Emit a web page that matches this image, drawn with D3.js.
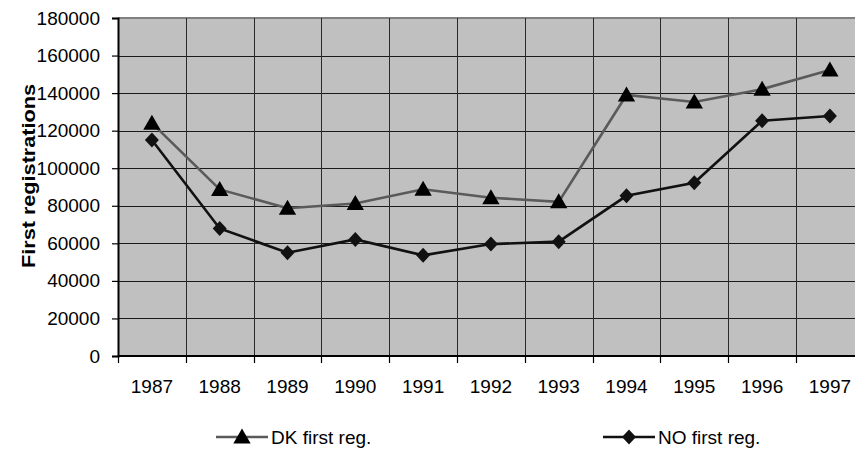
<!DOCTYPE html>
<html>
<head>
<meta charset="utf-8">
<script src="https://cdn.jsdelivr.net/npm/d3@7"></script>
<style>
  html, body { margin: 0; padding: 0; background: #fff; }
  svg { display: block; }
  text { font-family: "Liberation Sans", Arial, sans-serif; fill: #000; }
</style>
</head>
<body>
<svg id="chart" width="855" height="450"></svg>
<script>
// First registrations per year, Denmark and Norway
const years = ["1987","1988","1989","1990","1991","1992","1993","1994","1995","1996","1997"];
const dkFirstReg = [124000, 88700, 78700, 81200, 88800, 84300, 82100, 139000, 135300, 142100, 152300];
const noFirstReg = [115000, 67900, 55000, 62100, 53600, 59600, 60900, 85300, 92300, 125300, 127800];
const yTicks = [0, 20000, 40000, 60000, 80000, 100000, 120000, 140000, 160000, 180000];
const seriesNames = ["DK first reg.", "NO first reg."];

const svg = d3.select("#chart");
const plot = { left: 118, top: 18, bottom: 356, band: 67.8 };
plot.right = plot.left + plot.band * years.length;

const x = d3.scaleBand().domain(years).range([plot.left, plot.right]).padding(0);
const y = d3.scaleLinear().domain([0, 180000]).range([plot.bottom, plot.top]);

// plot background
svg.append("rect")
  .attr("x", plot.left).attr("y", plot.top)
  .attr("width", plot.right - plot.left).attr("height", plot.bottom - plot.top)
  .attr("fill", "#c0c0c0");

// horizontal gridlines
svg.append("g").selectAll("line")
  .data(yTicks.filter(v => v > 0 && v < 180000))
  .join("line")
  .attr("x1", plot.left).attr("x2", plot.right)
  .attr("y1", d => Math.round(y(d)) + 0.5).attr("y2", d => Math.round(y(d)) + 0.5)
  .attr("stroke", "#1a1a1a").attr("stroke-width", 1);

// top border
svg.append("line")
  .attr("x1", plot.left).attr("x2", plot.right)
  .attr("y1", y(180000)).attr("y2", y(180000))
  .attr("stroke", "#808080").attr("stroke-width", 2);

// vertical gridlines at category boundaries
svg.append("g").selectAll("line")
  .data(years.slice(1))
  .join("line")
  .attr("x1", d => Math.round(x(d)) + 0.5).attr("x2", d => Math.round(x(d)) + 0.5)
  .attr("y1", plot.top).attr("y2", plot.bottom)
  .attr("stroke", "#2a2a2a").attr("stroke-width", 1);

// y axis
const yAxis = svg.append("g")
  .attr("transform", `translate(${plot.left},0)`)
  .call(d3.axisLeft(y).tickValues(yTicks).tickSize(6).tickPadding(12).tickFormat(d3.format("d")));
yAxis.select(".domain").attr("stroke", "#000").attr("stroke-width", 2);
yAxis.selectAll(".tick line").attr("stroke", "#000").attr("stroke-width", 1.2);
yAxis.selectAll(".tick text")
  .style("font-family", '"Liberation Sans", Arial, sans-serif')
  .style("font-size", "19px").attr("fill", "#000");

// x axis: labels centred in each band, ticks on band boundaries
const xAxis = svg.append("g").attr("transform", `translate(0,${plot.bottom})`);
xAxis.append("line")
  .attr("x1", plot.left).attr("x2", plot.right)
  .attr("y1", 0).attr("y2", 0)
  .attr("stroke", "#000").attr("stroke-width", 2);
xAxis.selectAll("line.tk")
  .data(years)
  .join("line").attr("class", "tk")
  .attr("x1", d => Math.round(x(d)) + 0.5).attr("x2", d => Math.round(x(d)) + 0.5)
  .attr("y1", 0).attr("y2", 7)
  .attr("stroke", "#000").attr("stroke-width", 1.2);
xAxis.selectAll("text")
  .data(years)
  .join("text")
  .attr("x", d => x(d) + x.bandwidth() / 2)
  .attr("y", 37)
  .attr("text-anchor", "middle")
  .style("font-size", "19px")
  .text(d => d);

// y axis title
svg.append("text")
  .attr("transform", "translate(35,176) rotate(-90) scale(1.14,1)")
  .attr("text-anchor", "middle")
  .style("font-size", "19px").style("font-weight", "bold")
  .text("First registrations");

const cx = i => x(years[i]) + x.bandwidth() / 2;
const line = d3.line().x((d, i) => cx(i)).y(d => y(d));

const triangle = d3.symbol().type(d3.symbolTriangle).size(130);
const diamond = "M0,-7.5L7,0L0,7.5L-7,0Z";

// DK series
svg.append("path").datum(dkFirstReg)
  .attr("d", line).attr("fill", "none")
  .attr("stroke", "#5a5a5a").attr("stroke-width", 2.6);
svg.append("g").selectAll("path")
  .data(dkFirstReg).join("path")
  .attr("transform", (d, i) => `translate(${cx(i)},${y(d) + 1.5})`)
  .attr("d", triangle).attr("fill", "#000");

// NO series
svg.append("path").datum(noFirstReg)
  .attr("d", line).attr("fill", "none")
  .attr("stroke", "#111").attr("stroke-width", 2.6);
svg.append("g").selectAll("path")
  .data(noFirstReg).join("path")
  .attr("transform", (d, i) => `translate(${cx(i)},${y(d)})`)
  .attr("d", diamond).attr("fill", "#111");

// legend
const legend = [
  { name: seriesNames[0], x: 216, color: "#5a5a5a", marker: "tri" },
  { name: seriesNames[1], x: 603, color: "#111", marker: "dia" }
];
const ly = 437;
legend.forEach(l => {
  const g = svg.append("g");
  g.append("line")
    .attr("x1", l.x).attr("x2", l.x + 52)
    .attr("y1", ly).attr("y2", ly)
    .attr("stroke", l.color).attr("stroke-width", 2.6);
  g.append("path")
    .attr("transform", `translate(${l.x + 26},${ly + (l.marker === "tri" ? 1.5 : 0)})`)
    .attr("d", l.marker === "tri" ? triangle : diamond)
    .attr("fill", l.marker === "tri" ? "#000" : "#111");
  g.append("text")
    .attr("x", l.x + 55).attr("y", ly + 7)
    .style("font-size", "19px")
    .text(l.name);
});
</script>
</body>
</html>
